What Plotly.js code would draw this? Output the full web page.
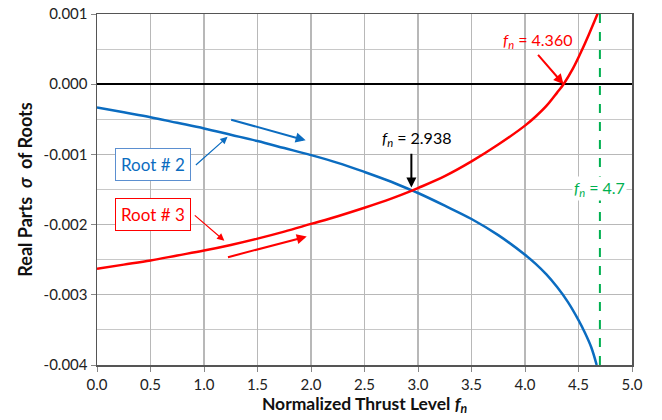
<!DOCTYPE html>
<html>
<head>
<meta charset="utf-8">
<script src="https://cdn.plot.ly/plotly-3.0.1.min.js"></script>
<style>html,body{margin:0;padding:0;background:#fff;}#chart{width:662px;height:420px;}</style>
</head>
<body>
<div id="chart"></div>
<script>
// Root #2 (blue) real part vs normalized thrust
const root2X = [0.0, 0.25, 0.5, 0.75, 1.0, 1.25, 1.5, 1.75, 2.0, 2.25, 2.5, 2.75, 2.938, 3.0, 3.25, 3.5, 3.75, 4.0, 4.1, 4.2, 4.3, 4.4, 4.5, 4.56, 4.62, 4.67];
const root2Y = [-0.00033, -0.0004, -0.00047, -0.00055, -0.00063, -0.00072, -0.00081, -0.00091, -0.00101, -0.00112, -0.00125, -0.00139, -0.00151, -0.00155, -0.00173, -0.00192, -0.00215, -0.00243, -0.00256, -0.00271, -0.00289, -0.0031, -0.00336, -0.00354, -0.00375, -0.0040];
// Root #3 (red) real part vs normalized thrust
const root3X = [0.0, 0.25, 0.5, 0.75, 1.0, 1.25, 1.5, 1.75, 2.0, 2.25, 2.5, 2.75, 2.938, 3.0, 3.25, 3.5, 3.75, 4.0, 4.1, 4.2, 4.3, 4.36, 4.45, 4.53, 4.6, 4.68];
const root3Y = [-0.00263, -0.00257, -0.00251, -0.00244, -0.00237, -0.00229, -0.0022, -0.0021, -0.00199, -0.00188, -0.00176, -0.00163, -0.00152, -0.00148, -0.00131, -0.0011, -0.00086, -0.00059, -0.00046, -0.00031, -0.00012, 0.0, 0.00023, 0.00048, 0.00072, 0.00101];
// Vertical limit line fn = 4.7
const limitX = [4.7, 4.7];
const limitY = [0.001, -0.004];
// Tick labels
const xTickVals = [0, 0.5, 1, 1.5, 2, 2.5, 3, 3.5, 4, 4.5, 5];
const xTickText = ["0.0","0.5","1.0","1.5","2.0","2.5","3.0","3.5","4.0","4.5","5.0"];
const yTickVals = [0.001, 0, -0.001, -0.002, -0.003, -0.004];
const yTickText = ["0.001","0.000","-0.001","-0.002","-0.003","-0.004"];

const FONT = "Lato, 'Open Sans', sans-serif";
const BLUE = "#0b6cc0";
const RED = "#ff0000";
const GREEN = "#00b050";

const traces = [
  {x: limitX, y: limitY, mode: "lines", line: {color: GREEN, width: 2, dash: "dash"}, hoverinfo: "skip"},
  {x: root2X, y: root2Y, mode: "lines", line: {color: BLUE, width: 2.5, shape: "spline", smoothing: 1}},
  {x: root3X, y: root3Y, mode: "lines", line: {color: RED, width: 2.5, shape: "spline", smoothing: 1}}
];

const fn = "<i>f<sub>n</sub></i>";

const annotations = [
  // fn = 4.360
  {x: 4.12, y: 0.00062, text: fn + " = 4.360", showarrow: false, font: {color: RED, size: 16, family: FONT}},
  {x: 4.36, y: 0.0, ax: 4.11, ay: 0.00044, axref: "x", ayref: "y", text: "", showarrow: true, arrowhead: 2, arrowsize: 1, arrowwidth: 2, arrowcolor: RED},
  // fn = 2.938
  {x: 2.99, y: -0.00078, text: fn + " = 2.938", showarrow: false, font: {color: "#000", size: 16, family: FONT}},
  {x: 2.938, y: -0.00147, ax: 2.938, ay: -0.00097, axref: "x", ayref: "y", text: "", showarrow: true, arrowhead: 2, arrowsize: 1, arrowwidth: 2, arrowcolor: "#000"},
  // fn = 4.7
  {x: 4.7, y: -0.00148, text: fn + " = 4.7", showarrow: false, bgcolor: "#fff", font: {color: GREEN, size: 16, family: FONT}},
  // Root # 2 box
  {x: 0.52, y: -0.00115, text: "Root # 2", showarrow: false, bgcolor: "#fff", bordercolor: "#5b8fd0", borderwidth: 1, borderpad: 5, font: {color: BLUE, size: 17, family: FONT}},
  {x: 1.22, y: -0.00075, ax: 0.91, ay: -0.00117, axref: "x", ayref: "y", text: "", showarrow: true, arrowhead: 2, arrowsize: 1.2, arrowwidth: 1.2, arrowcolor: BLUE},
  {x: 1.95, y: -0.0008, ax: 1.24, ay: -0.0005, axref: "x", ayref: "y", text: "", showarrow: true, arrowhead: 2, arrowsize: 1, arrowwidth: 2, arrowcolor: BLUE},
  // Root # 3 box
  {x: 0.52, y: -0.00186, text: "Root # 3", showarrow: false, bgcolor: "#fff", bordercolor: RED, borderwidth: 1, borderpad: 5, font: {color: RED, size: 17, family: FONT}},
  {x: 1.19, y: -0.00223, ax: 0.9, ay: -0.00185, axref: "x", ayref: "y", text: "", showarrow: true, arrowhead: 2, arrowsize: 1.2, arrowwidth: 1.2, arrowcolor: RED},
  {x: 1.96, y: -0.00217, ax: 1.21, ay: -0.00247, axref: "x", ayref: "y", text: "", showarrow: true, arrowhead: 2, arrowsize: 1, arrowwidth: 2, arrowcolor: RED}
];

const layout = {
  width: 662, height: 420,
  margin: {l: 97, r: 30, t: 14, b: 55},
  paper_bgcolor: "#fff", plot_bgcolor: "#fff",
  showlegend: false,
  font: {family: FONT, size: 15, color: "#222"},
  xaxis: {
    range: [0, 5], tickvals: xTickVals, ticktext: xTickText,
    ticks: "outside", ticklen: 5, tickcolor: "#888",
    showgrid: true, gridcolor: "#b8b8b8", gridwidth: 1.2,
    showline: true, linecolor: "#555", linewidth: 1.5, mirror: true,
    zeroline: false,
    tickfont: {size: 15, family: FONT, color: "#222"},
    title: {text: "<b>Normalized Thrust Level " + fn + "</b>", font: {size: 17.5, family: FONT, color: "#111"}, standoff: 4}
  },
  yaxis: {
    range: [-0.004, 0.001], tickvals: yTickVals, ticktext: yTickText,
    ticks: "outside", ticklen: 5, tickcolor: "#888",
    showgrid: true, gridcolor: "#b8b8b8", gridwidth: 1.2,
    minor: {dtick: 0.0005, tick0: 0, showgrid: true, gridcolor: "#c8c8c8", gridwidth: 1.2, ticks: ""},
    showline: true, linecolor: "#555", linewidth: 1.5, mirror: true,
    zeroline: true, zerolinecolor: "#000", zerolinewidth: 2,
    tickfont: {size: 15, family: FONT, color: "#222"},
    title: {text: "<b>Real Parts  <i>σ</i>  of Roots</b>", font: {size: 18, family: FONT, color: "#111"}, standoff: 6}
  },
  annotations: annotations
};

Plotly.newPlot("chart", traces, layout, {displayModeBar: false, staticPlot: true});
</script>
</body>
</html>
